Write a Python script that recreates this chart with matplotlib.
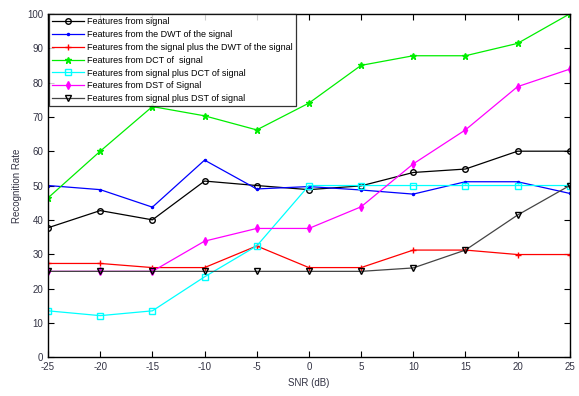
import matplotlib
matplotlib.use('Agg')
import matplotlib.pyplot as plt

plt.rcParams['font.family'] = ['Liberation Sans', 'DejaVu Sans']
plt.rcParams['axes.unicode_minus'] = False

snr = [-25, -20, -15, -10, -5, 0, 5, 10, 15, 20, 25]

sig = [37.7, 42.7, 40, 51.3, 50, 48.8, 49.9, 53.8, 54.8, 60, 60]
dwt = [50, 48.8, 43.7, 57.4, 49, 49.7, 48.7, 47.5, 51.1, 51.1, 47.7]
sig_dwt = [27.3, 27.3, 26.1, 26.1, 32.4, 26.1, 26.1, 31.2, 31.2, 29.9, 29.9]
dct = [46.4, 60, 73, 70.3, 66.2, 74, 85, 87.8, 87.8, 91.4, 100]
sig_dct = [13.5, 12.1, 13.5, 23.4, 32.4, 50, 50, 50, 50, 50, 50]
dst = [25, 25, 25, 33.8, 37.5, 37.5, 43.8, 56.3, 66.2, 78.8, 83.9]
sig_dst = [25, 25, 25, 25, 25, 25, 25, 26, 31.2, 41.4, 50]

labels = ['Features from signal',
          'Features from the DWT of the signal',
          'Features from the signal plus the DWT of the signal',
          'Features from DCT of  signal',
          'Features from signal plus DCT of signal',
          'Features from DST of Signal',
          'Features from signal plus DST of signal']

fig = plt.figure(figsize=(5.79, 3.96), dpi=100)
ax = fig.add_axes([0.083, 0.098, 0.901, 0.867])

lw = 0.9
ax.plot(snr, sig, color='black', marker='o', mfc='none', ms=4, lw=lw, label=labels[0])
ax.plot(snr, dwt, color='blue', marker='.', ms=3, lw=lw, label=labels[1])
ax.plot(snr, sig_dwt, color='red', marker='+', ms=5, lw=lw, label=labels[2])
ax.plot(snr, dct, color='#00ee00', marker='*', ms=4.5, lw=lw, label=labels[3])
ax.plot(snr, sig_dct, color='cyan', marker='s', mfc='none', ms=4, lw=lw, label=labels[4])
ax.plot(snr, dst, color='magenta', marker='d', ms=4, lw=lw, label=labels[5])
ax.plot(snr, sig_dst, color='#444444', marker='v', mfc='none', mec='black', ms=4, lw=lw, label=labels[6])

ax.set_xlim(-25, 25)
ax.set_ylim(0, 100)
ax.set_xticks(snr)
ax.set_yticks(range(0, 101, 10))
ax.tick_params(direction='in', top=True, right=True, labelsize=7, length=4,
               labelcolor='#333344')
for s in ax.spines.values():
    s.set_linewidth(1.0)
ax.set_xlabel('SNR (dB)', fontsize=7, color='#333344')
ax.set_ylabel('Recognition Rate', fontsize=7, color='#333344')

leg = ax.legend(loc='upper left', fontsize=6.5, frameon=True, fancybox=False,
                borderaxespad=0.05, handlelength=3.6, labelspacing=0.42,
                borderpad=0.35, handletextpad=0.3)
leg.get_frame().set_edgecolor('black')
leg.get_frame().set_linewidth(0.9)

fig.savefig('out.png', dpi=100)
